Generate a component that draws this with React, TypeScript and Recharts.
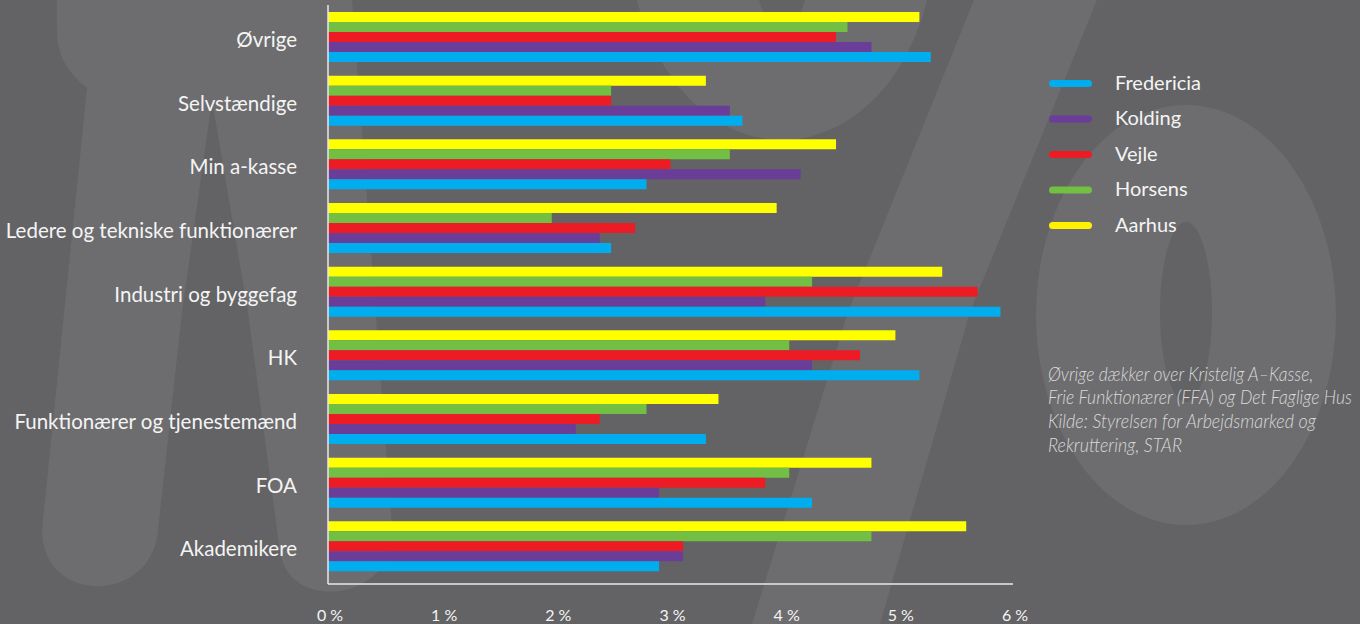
import React, { useLayoutEffect, useRef, useState } from 'react';
import { BarChart, Bar, XAxis, YAxis, Legend } from 'recharts';

const categories = [
  'Øvrige',
  'Selvstændige',
  'Min a-kasse',
  'Ledere og tekniske funktionærer',
  'Industri og byggefag',
  'HK',
  'Funktionærer og tjenestemænd',
  'FOA',
  'Akademikere',
];
const fredericia = [5.28, 3.63, 2.79, 2.48, 5.89, 5.18, 3.31, 4.24, 2.9];
const kolding = [4.76, 3.52, 4.14, 2.38, 3.83, 4.24, 2.17, 2.9, 3.11];
const vejle = [4.45, 2.48, 3.0, 2.69, 5.69, 4.66, 2.38, 3.83, 3.11];
const horsens = [4.55, 2.48, 3.52, 1.96, 4.24, 4.04, 2.79, 4.04, 4.76];
const aarhus = [5.18, 3.31, 4.45, 3.93, 5.38, 4.97, 3.42, 4.76, 5.59];
const xTicks = [0, 1, 2, 3, 4, 5, 6];
const legendOrder = ['Fredericia', 'Kolding', 'Vejle', 'Horsens', 'Aarhus'];
const colors: Record<string, string> = {
  Fredericia: '#00aeef',
  Kolding: '#6a3d98',
  Vejle: '#ed1c24',
  Horsens: '#72bf44',
  Aarhus: '#ffff00',
};
const legendColors: Record<string, string> = {
  Fredericia: '#00aeef',
  Kolding: '#6a3d98',
  Vejle: '#ed1c24',
  Horsens: '#72bf44',
  Aarhus: '#fff200',
};
const noteLines = [
  'Øvrige dækker over Kristelig A–Kasse,',
  'Frie Funktionærer (FFA) og Det Faglige Hus',
  'Kilde: Styrelsen for Arbejdsmarked og',
  'Rekruttering, STAR',
];
const noteWidths = [265, 304, 268, 134];

const data = categories.map((name, i) => ({
  name,
  Fredericia: fredericia[i],
  Kolding: kolding[i],
  Vejle: vejle[i],
  Horsens: horsens[i],
  Aarhus: aarhus[i],
}));

const FONT = 'Lato, "Open Sans", sans-serif';
const BG = '#636365';
const WM = '#6d6d6f';

const YTick = (props: any) => {
  const { x, y, payload } = props;
  return (
    <text x={x} y={y} dy={10} textAnchor="end" fill="#f4f4f4" fontSize={20.5} fontFamily={FONT}>
      {payload.value}
    </text>
  );
};

const XTick = (props: any) => {
  const { x, y, payload } = props;
  return (
    <text x={x} y={y} dx={2} dy={37} textAnchor="middle" fill="#f4f4f4" fontSize={16} fontFamily={FONT}>
      {`${payload.value} %`}
    </text>
  );
};

const LegendContent = (props: any) => {
  const payload: any[] = props.payload || [];
  const items = legendOrder
    .map((n) => payload.find((p) => p.value === n || p.dataKey === n))
    .filter(Boolean);
  return (
    <svg width={240} height={190} style={{ overflow: 'visible' }}>
      {items.map((p: any, i: number) => {
        const cy = 17.4 + i * 35.5;
        const name = p.value;
        return (
          <g key={name}>
            <line x1={12.5} x2={48.5} y1={cy} y2={cy} stroke={legendColors[name]} strokeWidth={7} strokeLinecap="round" />
            <text x={75} y={cy + 6.5} fill="#f4f4f4" fontSize={20} fontFamily={FONT}>
              {name}
            </text>
          </g>
        );
      })}
    </svg>
  );
};

const NoteLine = ({ text, x, y, width }: { text: string; x: number; y: number; width: number }) => {
  const ref = useRef<SVGTextElement>(null);
  const [sx, setSx] = useState(0.82);
  useLayoutEffect(() => {
    const el = ref.current;
    if (el) {
      const w = el.getComputedTextLength();
      if (w > 0) setSx(width / w);
    }
  }, [text, width]);
  return (
    <text
      ref={ref}
      transform={`translate(${x} ${y}) scale(${sx} 1)`}
      fill="#d9d9d9"
      fontSize={19}
      fontStyle="italic"
      fontWeight={300}
      fontFamily={FONT}
    >
      {text}
    </text>
  );
};

const Watermark = () => (
  <svg width={1360} height={624} style={{ position: 'absolute', left: 0, top: 0 }}>
    <path
      d="M 57 0 L 352 0 L 392 528 C 398 600, 290 615, 280 552 L 248 312 L 212 100 L 182 312 L 158 530 C 152 605, 42 605, 42 530 L 87 88 C 62 68, 57 48, 57 30 Z"
      fill={WM}
    />
    <path
      fillRule="evenodd"
      d="M 630 -60 A 152 200 0 1 0 934 -60 A 152 200 0 1 0 630 -60 Z M 754 -40 A 28 70 0 1 0 810 -40 A 28 70 0 1 0 754 -40 Z"
      fill={WM}
    />
    <polygon points="974,0 1097,0 970,312 880,624 752,624 848,312" fill={WM} />
    <path
      fillRule="evenodd"
      d="M 1036 315 A 150 210 0 1 0 1336 315 A 150 210 0 1 0 1036 315 Z M 1160 312 A 26 90 0 1 0 1212 312 A 26 90 0 1 0 1160 312 Z"
      fill={WM}
    />
    {noteLines.map((t, i) => (
      <NoteLine key={i} text={t} x={1048} y={380.5 + i * 23.7} width={noteWidths[i]} />
    ))}
  </svg>
);

export default function App() {
  const seriesInChartOrder = ['Aarhus', 'Horsens', 'Vejle', 'Kolding', 'Fredericia'];
  return (
    <div
      style={{
        position: 'absolute',
        left: 0,
        top: 0,
        width: 1360,
        height: 624,
        background: BG,
        overflow: 'hidden',
      }}
    >
      <Watermark />
      <div style={{ position: 'absolute', left: 0, top: 0 }}>
        <BarChart
          width={1360}
          height={624}
          data={data}
          layout="vertical"
          margin={{ top: 5, right: 347, bottom: 0, left: 0 }}
          barGap={0}
          barSize={10}
        >
          <XAxis
            type="number"
            domain={[0, 6]}
            ticks={xTicks}
            interval={0}
            height={40}
            tickLine={false}
            tickSize={0}
            tickMargin={0}
            axisLine={{ stroke: '#e8e8e8', strokeWidth: 1.5 }}
            tick={<XTick />}
          />
          <YAxis
            type="category"
            dataKey="name"
            width={328}
            interval={0}
            tickLine={false}
            tickSize={0}
            tickMargin={31}
            padding={{ top: 0, bottom: 6 }}
            axisLine={{ stroke: '#e8e8e8', strokeWidth: 1.5 }}
            tick={<YTick />}
          />
          <Legend
            layout="vertical"
            align="center"
            verticalAlign="middle"
            wrapperStyle={{ position: 'absolute', left: 1040, top: 66, width: 240, height: 190 }}
            content={<LegendContent />}
          />
          {seriesInChartOrder.map((s) => (
            <Bar key={s} dataKey={s} name={s} fill={colors[s]} isAnimationActive={false} />
          ))}
        </BarChart>
      </div>
    </div>
  );
}
